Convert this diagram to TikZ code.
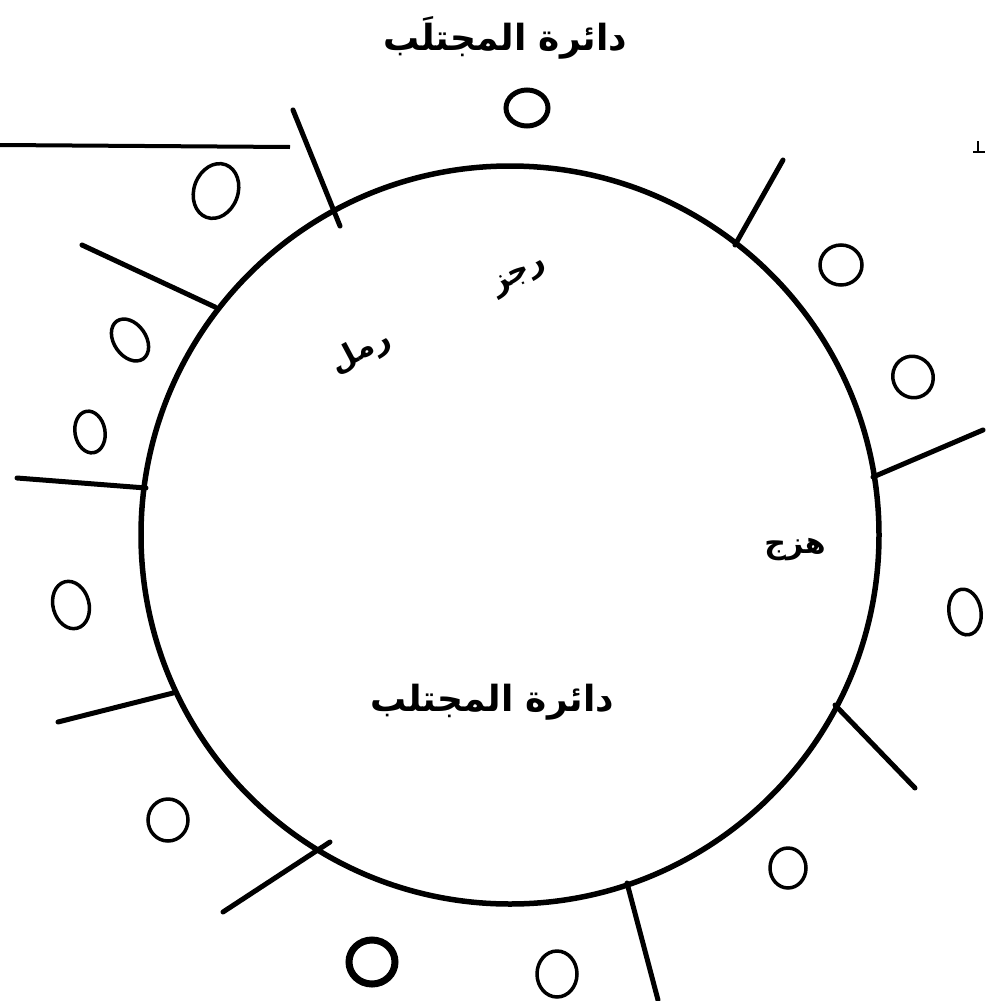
\documentclass[tikz,border=0pt]{standalone}
\usepackage{fontspec}
\newfontfamily\arabicfont[Script=Arabic]{DejaVu Sans}
\TeXXeTstate=1
\begin{document}
\begin{tikzpicture}[x=1pt,y=-1pt,
  ring/.style={line width=5.5pt},
  tickline/.style={line width=5pt,line cap=round},
  oring/.style={line width=3.5pt},
  lab/.style={font=\arabicfont\bfseries\fontsize{30}{30}\selectfont,inner sep=0pt},
  title/.style={font=\arabicfont\bfseries\fontsize{36}{36}\selectfont,inner sep=0pt}]
\useasboundingbox (0,0) rectangle (985,1001);
\fill[white] (0,0) rectangle (985,1001);
% main circle
\coordinate (C) at (510,535);
\draw[ring] (C) circle (369pt);
% ticks
\coordinate (h0) at (0,145);  \coordinate (h1) at (290,147);
\draw[line width=4pt] (h0) -- (h1);
\coordinate (a1) at (293,110); \coordinate (b1) at (340,226);
\coordinate (a2) at (82,245);  \coordinate (b2) at (215,307);
\coordinate (a3) at (17,478);  \coordinate (b3) at (146,488);
\coordinate (a4) at (58,722);  \coordinate (b4) at (173,693);
\coordinate (a5) at (223,912); \coordinate (b5) at (330,842);
\coordinate (a6) at (658,1000);\coordinate (b6) at (627,883);
\coordinate (a7) at (915,788); \coordinate (b7) at (835,705);
\coordinate (a8) at (983,430); \coordinate (b8) at (873,477);
\coordinate (a9) at (783,160); \coordinate (b9) at (735,245);
\foreach \i in {1,...,9} \draw[tickline] (a\i) -- (b\i);
% small corner mark
\coordinate (m0) at (973,152); \coordinate (m1) at (985,152);
\coordinate (m2) at (978,141); \coordinate (m3) at (978,152);
\draw[line width=2.5pt] (m0) -- (m1) (m2) -- (m3);
% small rings
\draw[oring,line width=5pt] (527,108) ellipse [x radius=21pt,y radius=18pt];
\draw[oring] (216,191) ellipse [x radius=22pt,y radius=28pt,rotate=-20];
\draw[oring] (841,265) ellipse [x radius=21pt,y radius=20pt];
\draw[oring] (913,377) ellipse [x radius=20pt,y radius=21pt,rotate=30];
\draw[oring] (130,340) ellipse [x radius=16pt,y radius=23pt,rotate=35];
\draw[oring] (90,432) ellipse [x radius=15pt,y radius=21pt,rotate=10];
\draw[oring] (71,605) ellipse [x radius=18pt,y radius=24pt,rotate=15];
\draw[oring] (965,612) ellipse [x radius=16pt,y radius=23pt,rotate=10];
\draw[oring] (168,820) ellipse [x radius=20pt,y radius=21pt];
\draw[oring] (788,868) ellipse [x radius=18pt,y radius=20pt];
\draw[oring,line width=7pt] (372,962) ellipse [x radius=23pt,y radius=22pt];
\draw[oring] (557,974) ellipse [x radius=20pt,y radius=23pt];
% texts
\node[title] (t1) at (505,38) {\beginR دائرة المجتلَب\endR};
\node[title] (t2) at (492,702) {\beginR دائرة المجتلب\endR};
\node[lab,rotate=28] (l1) at (520,277) {\beginR رجز\endR};
\node[lab,rotate=28] (l2) at (361,352) {\beginR رمل\endR};
\node[lab] (l3) at (795,550) {\beginR هزج\endR};
\end{tikzpicture}
\end{document}
